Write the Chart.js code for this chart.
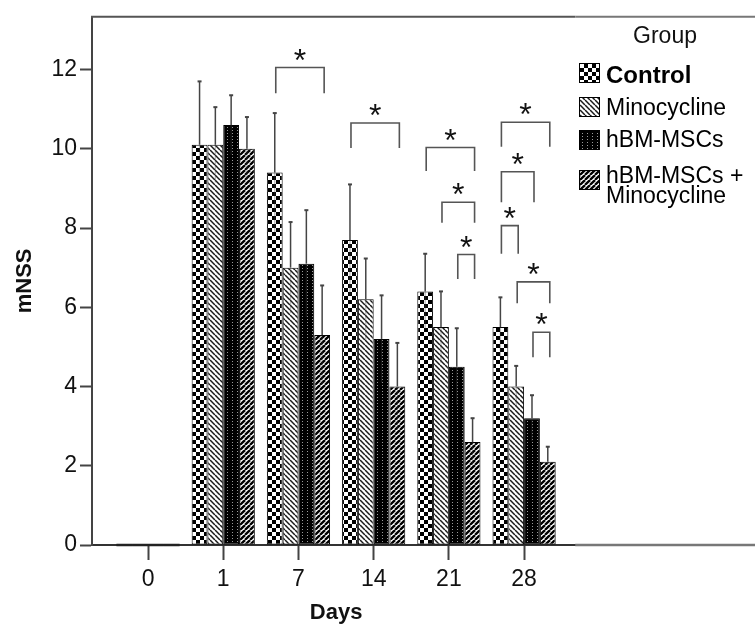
<!DOCTYPE html>
<html><head><meta charset="utf-8">
<script src="https://cdn.jsdelivr.net/npm/chart.js@4.4.0/dist/chart.umd.min.js"></script>
<style>html,body{margin:0;padding:0;background:#fff;}#wrap{width:755px;height:626px;}</style>
</head><body><div id="wrap"><canvas id="c" width="755" height="626"></canvas></div>
<script>
const dayLabels = ['0', '1', '7', '14', '21', '28'];
const groupLabels = ['Control', 'Minocycline', 'hBM-MSCs', 'hBM-MSCs + Minocycline'];
const controlMean = [0, 10.1, 9.4, 7.7, 6.4, 5.5];
const controlSD   = [0, 1.6, 1.5, 1.4, 0.95, 0.75];
const minoMean    = [0, 10.1, 7.0, 6.2, 5.5, 4.0];
const minoSD      = [0, 0.95, 1.15, 1.03, 0.9, 0.52];
const hbmMean     = [0, 10.6, 7.1, 5.2, 4.5, 3.2];
const hbmSD       = [0, 0.75, 1.35, 1.1, 0.97, 0.58];
const comboMean   = [0, 10.0, 5.3, 4.0, 2.6, 2.1];
const comboSD     = [0, 0.8, 1.25, 1.1, 0.6, 0.38];
// significance brackets: [day index, from group, to group, bracket top (mNSS), leg end (mNSS)]
const brackets = [
  [2, 0, 3, 12.05, 11.4],
  [3, 0, 3, 10.65, 10.02],
  [4, 0, 3, 10.03, 9.44],
  [4, 1, 3, 8.65, 8.13],
  [4, 2, 3, 7.33, 6.71],
  [5, 0, 3, 10.67, 10.05],
  [5, 0, 2, 9.42, 8.65],
  [5, 0, 1, 8.06, 7.35],
  [5, 1, 3, 6.64, 6.1],
  [5, 2, 3, 5.37, 4.74]
];

const FONT = "'Liberation Sans', Arial, sans-serif";

function makePattern(kind) {
  const c = document.createElement('canvas');
  const g = c.getContext('2d');
  if (kind === 'check') {
    c.width = c.height = 8;
    g.fillStyle = '#fff'; g.fillRect(0, 0, 8, 8);
    g.fillStyle = '#000'; g.fillRect(0, 0, 4, 4); g.fillRect(4, 4, 4, 4);
  } else if (kind === 'back' || kind === 'fwd') {
    const p = 5;
    c.width = c.height = p;
    g.fillStyle = '#fff'; g.fillRect(0, 0, p, p);
    g.strokeStyle = kind === 'back' ? '#1a1a1a' : '#000';
    g.lineWidth = kind === 'back' ? 1.5 : 2.3;
    for (const k of [-p, 0, p]) {
      g.beginPath();
      if (kind === 'back') { g.moveTo(k, 0); g.lineTo(k + p, p); }
      else { g.moveTo(k, p); g.lineTo(k + p, 0); }
      g.stroke();
    }
  } else {
    c.width = 5; c.height = 3;
    g.fillStyle = '#000'; g.fillRect(0, 0, 5, 3);
    g.fillStyle = '#9a9a9a'; g.fillRect(2, 1, 1, 1);
  }
  return g.createPattern(c, 'repeat');
}

const patterns = [makePattern('check'), makePattern('back'), makePattern('dots'), makePattern('fwd')];
const means = [controlMean, minoMean, hbmMean, comboMean];
const sds = [controlSD, minoSD, hbmSD, comboSD];

const datasets = groupLabels.map((lab, gi) => ({
  label: lab,
  data: means[gi].map((v, i) => ({ x: i, y: v })),
  sd: sds[gi],
  backgroundColor: patterns[gi],
  borderColor: '#000',
  borderWidth: 1,
  borderSkipped: false
}));

const decorPlugin = {
  id: 'decor',
  beforeDatasetsDraw(chart) {
    const { ctx, chartArea, scales } = chart;
    const split = scales.x.getPixelForValue(5.68);
    ctx.save();
    ctx.lineWidth = 2;
    ctx.strokeStyle = '#555';
    ctx.beginPath(); ctx.moveTo(chartArea.left - 1, chartArea.top); ctx.lineTo(split, chartArea.top); ctx.stroke();
    ctx.strokeStyle = '#777';
    ctx.beginPath(); ctx.moveTo(split, chartArea.top); ctx.lineTo(chartArea.right, chartArea.top); ctx.stroke();
    ctx.restore();
  },
  afterDatasetsDraw(chart) {
    const { ctx, scales } = chart;
    const y = scales.y;
    ctx.save();
    chart.data.datasets.forEach((ds, di) => {
      const meta = chart.getDatasetMeta(di);
      meta.data.forEach((el, i) => {
        const v = ds.data[i].y;
        if (v === 0) {
          ctx.strokeStyle = '#222'; ctx.lineWidth = 2.5;
          ctx.beginPath(); ctx.moveTo(el.x - el.width / 2, el.base); ctx.lineTo(el.x + el.width / 2, el.base); ctx.stroke();
          return;
        }
        const top = y.getPixelForValue(v + ds.sd[i]);
        const bot = y.getPixelForValue(v - ds.sd[i]);
        ctx.strokeStyle = 'rgba(60,60,60,0.35)'; ctx.lineWidth = 1.3;
        ctx.beginPath(); ctx.moveTo(el.x, el.y); ctx.lineTo(el.x, bot); ctx.stroke();
        ctx.strokeStyle = '#444'; ctx.lineWidth = 1.5;
        ctx.beginPath(); ctx.moveTo(el.x, el.y); ctx.lineTo(el.x, top); ctx.stroke();
        ctx.lineWidth = 2;
        ctx.beginPath(); ctx.moveTo(el.x - 2, top); ctx.lineTo(el.x + 2, top); ctx.stroke();
      });
    });
    ctx.font = '32px ' + FONT;
    const m = ctx.measureText('*');
    const halfGlyph = (m.actualBoundingBoxAscent - m.actualBoundingBoxDescent) / 2;
    brackets.forEach(([day, g1, g2, topV, legV]) => {
      const x1 = chart.getDatasetMeta(g1).data[day].x + 1;
      const x2 = chart.getDatasetMeta(g2).data[day].x + 2;
      const yt = y.getPixelForValue(topV);
      const yl = y.getPixelForValue(legV);
      ctx.strokeStyle = '#555'; ctx.lineWidth = 1.6;
      ctx.beginPath(); ctx.moveTo(x1, yl); ctx.lineTo(x1, yt); ctx.lineTo(x2, yt); ctx.lineTo(x2, yl); ctx.stroke();
      ctx.fillStyle = '#111'; ctx.textAlign = 'center'; ctx.textBaseline = 'alphabetic';
      ctx.fillText('*', (x1 + x2) / 2, yt - 13 + halfGlyph);
    });
    ctx.restore();
  },
  afterDraw(chart) {
    const { ctx, scales } = chart;
    ctx.save();
    const split = scales.x.getPixelForValue(5.68);
    ctx.strokeStyle = '#777'; ctx.lineWidth = 2.5;
    ctx.beginPath(); ctx.moveTo(split, chart.chartArea.bottom); ctx.lineTo(chart.chartArea.right, chart.chartArea.bottom); ctx.stroke();
    ctx.fillStyle = '#111';
    ctx.font = 'bold 22px ' + FONT;
    ctx.textAlign = 'center'; ctx.textBaseline = 'middle';
    ctx.fillText('Days', scales.x.getPixelForValue((dayLabels.length - 1) / 2), 613);
    ctx.font = '23px ' + FONT;
    ctx.fillText('Group', 665, 37);
    const swTop = [63, 97, 130, 170];
    const txtY = [[76], [109], [141], [177, 197]];
    chart.data.datasets.forEach((ds, di) => {
      ctx.fillStyle = ds.backgroundColor;
      ctx.fillRect(579, swTop[di], 21, 20);
      ctx.strokeStyle = '#000'; ctx.lineWidth = 1;
      ctx.strokeRect(579.5, swTop[di] + 0.5, 20, 19);
      ctx.fillStyle = '#000';
      ctx.textAlign = 'left'; ctx.textBaseline = 'middle';
      ctx.font = (di === 0 ? 'bold 24px ' : '23px ') + FONT;
      const lines = ds.label.indexOf(' + ') > 0 ? [ds.label.split(' + ')[0] + ' +', ds.label.split(' + ')[1]] : [ds.label];
      lines.forEach((t, li) => ctx.fillText(t, 606, txtY[di][li]));
    });
    ctx.restore();
  }
};

new Chart(document.getElementById('c'), {
  type: 'bar',
  data: { datasets },
  plugins: [decorPlugin],
  options: {
    responsive: false,
    animation: false,
    devicePixelRatio: 1,
    layout: { padding: { top: 13, right: 0, left: 0, bottom: 0 } },
    plugins: { legend: { display: false }, tooltip: { enabled: false } },
    datasets: { bar: { categoryPercentage: 0.84, barPercentage: 1 } },
    scales: {
      x: {
        type: 'linear', min: -0.745, max: 8.07, offset: false,
        afterBuildTicks: s => { s.ticks = dayLabels.map((_, i) => ({ value: i })); },
        afterFit: s => { s.height = 81; },
        ticks: { callback: v => dayLabels[v] ?? '', font: { family: FONT, size: 23 }, color: '#111', padding: 6, autoSkip: false, maxRotation: 0 },
        grid: { offset: false, drawOnChartArea: false, drawTicks: true, tickLength: 15, tickColor: '#444', tickWidth: 2 },
        border: { display: true, color: '#333', width: 2 }
      },
      y: {
        min: 0, max: 13.33,
        afterFit: s => { s.width = 92; },
        ticks: { stepSize: 2, includeBounds: false, font: { family: FONT, size: 23 }, color: '#111', padding: 3 },
        grid: { drawOnChartArea: false, drawTicks: true, tickLength: 12, tickColor: '#444', tickWidth: 2 },
        border: { display: true, color: '#444', width: 2 },
        title: { display: true, text: 'mNSS', font: { family: FONT, size: 22, weight: 'bold' }, color: '#111', padding: { top: 12, bottom: 0 } }
      }
    }
  }
});
</script></body></html>
